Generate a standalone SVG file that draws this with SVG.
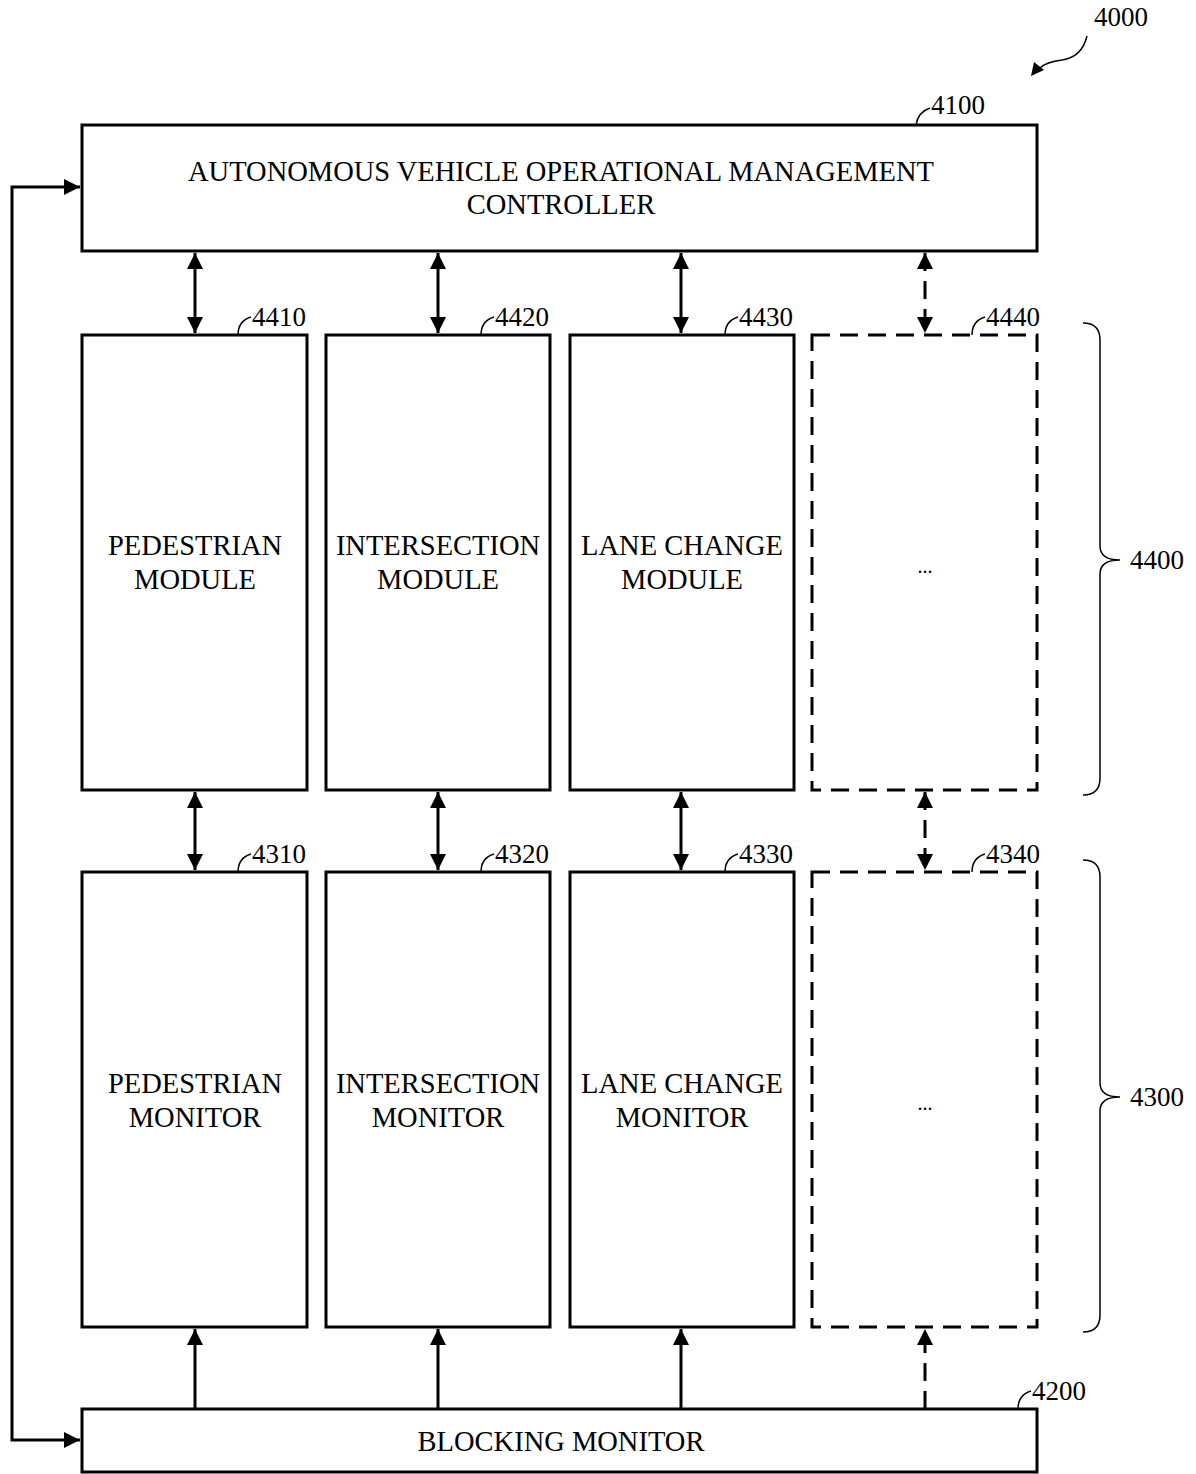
<svg xmlns="http://www.w3.org/2000/svg" width="1196" height="1474" viewBox="0 0 1196 1474">
<defs>
<style>
.box{fill:#fff;stroke:#000;stroke-width:3}
.dbox{fill:#fff;stroke:#000;stroke-width:3;stroke-dasharray:18 10}
.t{font-family:"Liberation Serif",serif;font-size:28.5px;fill:#000;text-anchor:middle}
.ref{font-family:"Liberation Serif",serif;font-size:27px;fill:#000}
.ln{fill:none;stroke:#000;stroke-width:3}
.dln{fill:none;stroke:#000;stroke-width:3;stroke-dasharray:18 10}
.lead{fill:none;stroke:#000;stroke-width:1.5}
</style>
<marker id="ah" viewBox="0 0 10 10" refX="10" refY="5" markerWidth="16" markerHeight="16" markerUnits="userSpaceOnUse" orient="auto-start-reverse">
<path d="M0,0 L10,5 L0,10 z" fill="#000"/>
</marker>
</defs>

<g id="n4100">
<rect class="box" x="82" y="125" width="955" height="126"/>
<text class="t" x="561" y="181">AUTONOMOUS VEHICLE OPERATIONAL MANAGEMENT</text>
<text class="t" x="561" y="214">CONTROLLER</text>
<path class="lead" d="M916,125 Q918,112 930,108"/>
<text class="ref" x="931" y="114">4100</text>
</g>

<g id="n4410">
<rect class="box" x="82" y="335" width="225" height="455"/>
<text class="t" x="195" y="555">PEDESTRIAN</text>
<text class="t" x="195" y="589">MODULE</text>
<path class="lead" d="M238,335 Q238,321 251,317"/>
<text class="ref" x="252" y="326">4410</text>
</g>
<g id="n4420">
<rect class="box" x="326" y="335" width="224" height="455"/>
<text class="t" x="438" y="555">INTERSECTION</text>
<text class="t" x="438" y="589">MODULE</text>
<path class="lead" d="M481,335 Q481,321 494,317"/>
<text class="ref" x="495" y="326">4420</text>
</g>
<g id="n4430">
<rect class="box" x="570" y="335" width="224" height="455"/>
<text class="t" x="682" y="555">LANE CHANGE</text>
<text class="t" x="682" y="589">MODULE</text>
<path class="lead" d="M725,335 Q725,321 738,317"/>
<text class="ref" x="739" y="326">4430</text>
</g>
<g id="n4440">
<rect class="dbox" x="812" y="335" width="225" height="455"/>
<text class="t" x="925" y="573" style="font-size:20px">...</text>
<path class="lead" d="M972,335 Q972,321 985,317"/>
<text class="ref" x="986" y="326">4440</text>
</g>

<g id="n4310">
<rect class="box" x="82" y="872" width="225" height="455"/>
<text class="t" x="195" y="1093">PEDESTRIAN</text>
<text class="t" x="195" y="1127">MONITOR</text>
<path class="lead" d="M238,872 Q238,858 251,854"/>
<text class="ref" x="252" y="863">4310</text>
</g>
<g id="n4320">
<rect class="box" x="326" y="872" width="224" height="455"/>
<text class="t" x="438" y="1093">INTERSECTION</text>
<text class="t" x="438" y="1127">MONITOR</text>
<path class="lead" d="M481,872 Q481,858 494,854"/>
<text class="ref" x="495" y="863">4320</text>
</g>
<g id="n4330">
<rect class="box" x="570" y="872" width="224" height="455"/>
<text class="t" x="682" y="1093">LANE CHANGE</text>
<text class="t" x="682" y="1127">MONITOR</text>
<path class="lead" d="M725,872 Q725,858 738,854"/>
<text class="ref" x="739" y="863">4330</text>
</g>
<g id="n4340">
<rect class="dbox" x="812" y="872" width="225" height="455"/>
<text class="t" x="925" y="1110" style="font-size:20px">...</text>
<path class="lead" d="M972,872 Q972,858 985,854"/>
<text class="ref" x="986" y="863">4340</text>
</g>

<g id="n4200">
<rect class="box" x="82" y="1409" width="955" height="63"/>
<text class="t" x="561" y="1451">BLOCKING MONITOR</text>
<path class="lead" d="M1018,1409 Q1018,1395 1031,1391"/>
<text class="ref" x="1032" y="1400">4200</text>
</g>

<g id="g4400">
<path class="lead" d="M1083,323 Q1100,323 1100,340 L1100,546 Q1100,560 1120,560 Q1100,560 1100,574 L1100,778 Q1100,795 1083,795"/>
<text class="ref" x="1130" y="569">4400</text>
</g>
<g id="g4300">
<path class="lead" d="M1083,860 Q1100,860 1100,877 L1100,1083 Q1100,1097 1120,1097 Q1100,1097 1100,1111 L1100,1315 Q1100,1332 1083,1332"/>
<text class="ref" x="1130" y="1106">4300</text>
</g>

<g id="g4000">
<text class="ref" x="1094" y="26">4000</text>
<path class="lead" d="M1087,36 Q1082,57 1062,60 Q1046,62 1040,68"/>
<path d="M1031,76 L1034,62 L1044,70 z" fill="#000"/>
</g>

<g id="connectors">
<line class="ln" x1="195" y1="253" x2="195" y2="333" marker-start="url(#ah)" marker-end="url(#ah)"/>
<line class="ln" x1="438" y1="253" x2="438" y2="333" marker-start="url(#ah)" marker-end="url(#ah)"/>
<line class="ln" x1="681" y1="253" x2="681" y2="333" marker-start="url(#ah)" marker-end="url(#ah)"/>
<line class="dln" x1="925" y1="253" x2="925" y2="333" marker-start="url(#ah)" marker-end="url(#ah)"/>
<line class="ln" x1="195" y1="792" x2="195" y2="870" marker-start="url(#ah)" marker-end="url(#ah)"/>
<line class="ln" x1="438" y1="792" x2="438" y2="870" marker-start="url(#ah)" marker-end="url(#ah)"/>
<line class="ln" x1="681" y1="792" x2="681" y2="870" marker-start="url(#ah)" marker-end="url(#ah)"/>
<line class="dln" x1="925" y1="792" x2="925" y2="870" marker-start="url(#ah)" marker-end="url(#ah)"/>
<line class="ln" x1="195" y1="1409" x2="195" y2="1329" marker-end="url(#ah)"/>
<line class="ln" x1="438" y1="1409" x2="438" y2="1329" marker-end="url(#ah)"/>
<line class="ln" x1="681" y1="1409" x2="681" y2="1329" marker-end="url(#ah)"/>
<line class="dln" x1="925" y1="1409" x2="925" y2="1329" marker-end="url(#ah)"/>
<path class="ln" d="M80,187 L12,187 L12,1440 L80,1440" marker-start="url(#ah)" marker-end="url(#ah)"/>
</g>
</svg>
